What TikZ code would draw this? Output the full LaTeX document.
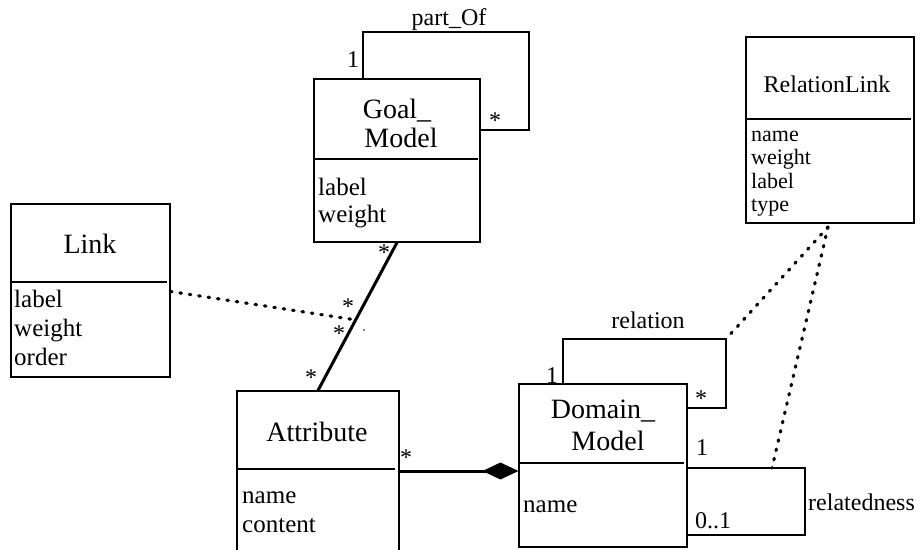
\documentclass[tikz,border=0pt]{standalone}
\usepackage{fontspec}
\setmainfont{Liberation Serif}
\usetikzlibrary{arrows.meta,calc}
\tikzset{
  umlbox/.style={draw, line width=1.1pt, rectangle, inner sep=0pt},
  ttl/.style={font=\fontsize{28}{30}\selectfont, inner sep=0pt, anchor=base},
  att/.style={font=\fontsize{25}{27}\selectfont, inner sep=0pt, anchor=base west},
  satt/.style={font=\fontsize{22}{24}\selectfont, inner sep=0pt, anchor=base west},
  lbl/.style={font=\fontsize{24}{26}\selectfont, inner sep=0pt},
  mult/.style={font=\fontsize{24}{26}\selectfont, inner sep=0pt},
  star/.style={font=\fontsize{24}{26}\selectfont, inner sep=0pt, anchor=center},
  divider/.style={line width=1.1pt},
  conn/.style={line width=1.1pt},
  thickconn/.style={line width=3pt},
  dotconn/.style={line width=3.2pt, line cap=round, dash pattern=on 1.5pt off 8pt},
}
\begin{document}
\begin{tikzpicture}[x=1pt,y=-1pt]
\useasboundingbox (0,0) rectangle (921,549);

% boxes
\node[umlbox, minimum width=166pt, minimum height=163pt] (goal) at (397,160.5) {};
\node[umlbox, minimum width=159pt, minimum height=173pt] (link) at (90.5,290.5) {};
\node[umlbox, minimum width=168pt, minimum height=186pt] (rlink) at (830,130) {};
\node[umlbox, minimum width=162pt, minimum height=178pt] (attr) at (318,480) {};
\node[umlbox, minimum width=168pt, minimum height=163pt] (dom) at (603,465.5) {};

% dividers
\draw[divider] (goal.west |- 0,159) -- ([xshift=-3pt]goal.east |- 0,159);
\draw[divider] (link.west |- 0,282) -- ([xshift=-4pt]link.east |- 0,282);
\draw[divider] (rlink.west |- 0,119) -- ([xshift=-4pt]rlink.east |- 0,119);
\draw[divider] (attr.west |- 0,469) -- ([xshift=-5pt]attr.east |- 0,469);
\draw[divider] (dom.west |- 0,463) -- ([xshift=-4pt]dom.east |- 0,463);

% Goal_Model texts
\node[ttl] (gt1) at (397,118) {Goal\_};
\node[ttl] (gt2) at (401,147) {Model};
\node[att] (ga1) at (318,195) {label};
\node[att] (ga2) at (318,222) {weight};

% Link texts
\node[ttl] (lt) at (90,253) {Link};
\node[att] (la1) at (14,307) {label};
\node[att] (la2) at (14,336) {weight};
\node[att] (la3) at (14,365) {order};

% RelationLink texts
\node[ttl, font=\fontsize{24}{26}\selectfont] (rt) at (827,92) {RelationLink};
\node[satt] (ra1) at (751,141) {name};
\node[satt] (ra2) at (751,164.5) {weight};
\node[satt] (ra3) at (751,188) {label};
\node[satt] (ra4) at (751,211.5) {type};

% Attribute texts
\node[ttl] (at) at (317,441) {Attribute};
\node[att] (aa1) at (242,503) {name};
\node[att] (aa2) at (242,532) {content};

% Domain_Model texts
\node[ttl] (dt1) at (603,418) {Domain\_};
\node[ttl] (dt2) at (608,450) {Model};
\node[att] (da1) at (523,512) {name};

% part_Of self loop
\coordinate (gl1) at (363,32);
\coordinate (gl2) at (529,130);
\draw[conn] (goal.north -| gl1) -- (gl1) -| (gl2) -- (gl2 -| goal.east);
\node[lbl, anchor=base] (partof) at (449,25) {part\_Of};
\node[mult, anchor=base] (gm1) at (353,67) {1};
\node[star] (gm2) at (495,121) {*};

% relation self loop
\coordinate (rl1) at (563,339);
\coordinate (rl2) at (726,408);
\draw[conn] (dom.north -| rl1) -- (rl1) -| (rl2) -- (rl2 -| dom.east);
\node[lbl, anchor=base] (relation) at (648,328) {relation};
\node[mult, anchor=base] (dm1) at (552,383) {1};
\node[star] (dm2) at (701,399) {*};

% relatedness self loop
\coordinate (rd1) at (805,468);
\coordinate (rd2) at (805,535);
\coordinate (rdm) at (772,468);
\draw[conn] (rd1 -| dom.east) -- (rd1) -- (rd2) -- (rd2 -| dom.east);
\node[lbl, anchor=base west] (relatedness) at (808,510) {relatedness};
\node[mult, anchor=base] (dm3) at (702,455) {1};
\node[mult, anchor=base] (dm4) at (713,528) {0..1};

% association Goal_Model -- Attribute
\draw[thickconn] (goal.south) -- (attr.north);
\coordinate (am) at ($(goal.south)!0.523!(attr.north)$);
\node[star] (as1) at (384,253) {*};
\node[star] (as2) at (311,378) {*};
\node[star] (as3) at (348,307) {*};
\node[star] (as4) at (339,334) {*};
\fill (364,330) circle (0.9pt);

% Link association class
\draw[dotconn] ([yshift=-1pt]link.east) -- (am);

% composition Attribute -- Domain_Model
\coordinate (cy) at (0,471);
\draw[thickconn, -{Diamond[length=36pt, width=17pt]}] (cy -| attr.east) -- (cy -| dom.west);
\node[star] (cs) at (406,458) {*};

% RelationLink association classes
\coordinate (rls) at (828,227);
\draw[dotconn] (rls) -- (rl1 -| rl2);
\draw[dotconn] (rls) -- (rdm);
\end{tikzpicture}
\end{document}
